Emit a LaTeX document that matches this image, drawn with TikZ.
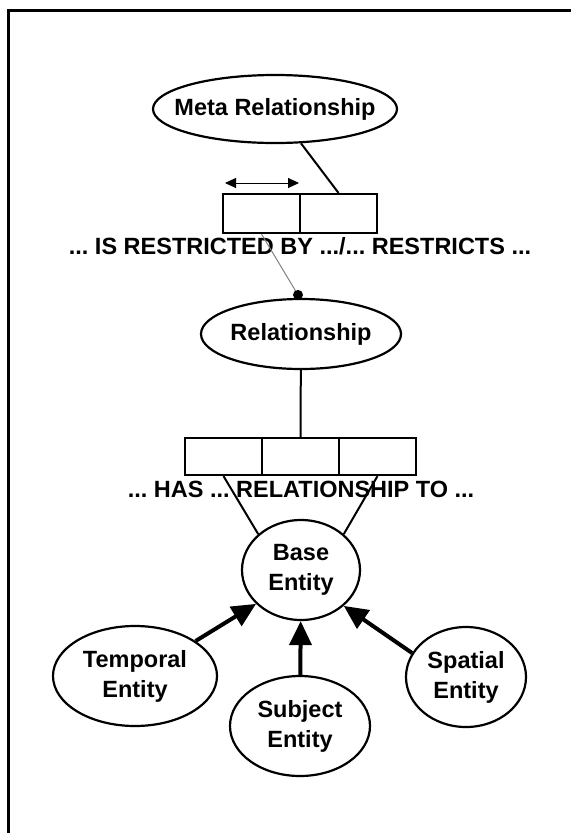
\documentclass[tikz,border=0pt]{standalone}
\usepackage{fontspec}
\setmainfont{Liberation Sans}
\usetikzlibrary{shapes.geometric,arrows.meta}
\frenchspacing
\begin{document}
\begin{tikzpicture}[x=1pt,y=-1pt,
  every node/.style={font=\fontsize{23.5}{30}\selectfont\bfseries},
  ent/.style={draw, ellipse, line width=2.2pt, inner sep=0pt},
  lbl/.style={align=center, inner sep=0pt},
  cell/.style={draw, rectangle, line width=2.2pt, inner sep=0pt, minimum width=77pt, minimum height=39pt},
  link/.style={line width=2pt},
  isa/.style={line width=4pt, -{Triangle[length=24pt,width=22pt]}},
  span/.style={line width=1pt, {Triangle[length=11pt,width=10pt]}-{Triangle[length=11pt,width=10pt]}},
  restrict/.style={line width=1pt, draw=gray},
]
\useasboundingbox (0,0) rectangle (571,833);
\draw[line width=3pt] (8,833) -- (8,10) -- (571,10);

% Meta relationship and its role boxes
\node[ent, minimum width=244pt, minimum height=68pt] (meta) at (275,109) {};
\node[lbl] (metaT) at (meta) {Meta Relationship};
\node[cell] (r1) at (261.5,213.5) {};
\node[cell] (r2) at (338.5,213.5) {};
\node[lbl] (restr) at (300,246) {... IS RESTRICTED BY .../... RESTRICTS ...};
\coordinate (da1) at (225,183);
\coordinate (da2) at (299,183);

% Relationship
\node[ent, minimum width=200pt, minimum height=70pt] (rel) at (301,334) {};
\node[lbl] (relT) at (rel) {Relationship};
\coordinate (dot) at ([shift={(-3,-3)}]rel.north);

\node[cell, minimum height=37pt] (h1) at (223.5,456.5) {};
\node[cell, minimum height=37pt] (h2) at (300.5,456.5) {};
\node[cell, minimum height=37pt] (h3) at (377.5,456.5) {};
\node[lbl] (has) at (301,489) {... HAS ... RELATIONSHIP TO ...};

% Entities
\node[ent, minimum width=118pt, minimum height=100pt] (base) at (301,570) {};
\node[lbl] (baseT) at (base) {Base\\Entity};
\node[ent, minimum width=164pt, minimum height=100pt] (temp) at (135,676) {};
\node[lbl] (tempT) at (temp) {Temporal\\Entity};
\node[ent, minimum width=140pt, minimum height=100pt] (subj) at (300,726) {};
\node[lbl] (subjT) at (subj) {Subject\\Entity};
\node[ent, minimum width=120pt, minimum height=100pt] (spat) at (466,677) {};
\node[lbl] (spatT) at (spat) {Spatial\\Entity};

% Connectors
\draw[link] (meta) -- (r2.north);
\draw[span] (da1) -- (da2);
\draw[restrict] (r1.south) -- (dot);
\fill (dot) circle (5);
\draw[link] (rel) -- (h2.north);
\draw[link] (h1.south) -- (base.140);
\draw[link] (h3.south) -- (base.40);
\draw[isa] (temp.30) -- (base.217);
\draw[isa] (subj) -- (base);
\draw[isa] (spat.156) -- (base.320);
\end{tikzpicture}
\end{document}
